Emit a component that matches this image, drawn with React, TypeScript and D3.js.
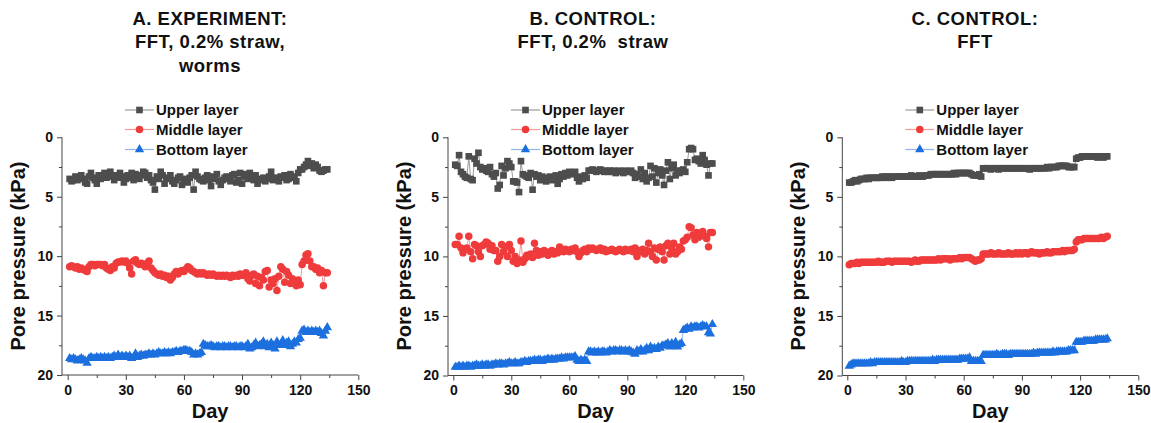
import React, { useEffect, useRef } from "react";
import * as d3 from "d3";

// ---------- DATA ----------
const DAYS = [
  1,2,3,4,5,6,7,8,9,10,11,12,13,14,15,16,17,18,19,20,
  21,22,23,24,25,26,27,28,29,30,31,32,33,34,35,36,37,38,39,40,
  41,42,43,44,45,46,47,48,49,50,51,52,53,54,55,56,57,58,59,60,
  61,62,63,64,65,66,67,68,69,70,71,72,73,74,75,76,77,78,79,80,
  81,82,83,84,85,86,87,88,89,90,91,92,93,94,95,96,97,98,99,100,
  101,102,103,104,105,106,107,108,109,110,111,112,113,114,115,116,117,118,119,120,
  121,122,123,124,125,126,127,128,129,130,131,132,133,134,
];

const SERIES_NAMES = ["Upper layer", "Middle layer", "Bottom layer"];
const X_TICKS = [0, 30, 60, 90, 120, 150];
const X_MINOR = [15, 45, 75, 105, 135];
const Y_TICKS = [0, 5, 10, 15, 20];
const Y_MINOR = [2.5, 7.5, 12.5, 17.5];

// Panel A: experiment
const A_UPPER = [
  3.5,3.7,3.6,3.3,3.6,3.4,3.2,3.5,3.8,3.9,
  3.3,3.0,3.4,3.6,3.9,3.2,3.5,3.3,3.0,3.4,
  3.1,2.9,3.3,3.6,3.2,3.4,3.0,3.3,3.8,3.5,
  3.2,3.4,3.0,3.6,3.1,3.3,3.5,3.2,2.9,3.0,
  3.4,3.2,3.6,3.8,4.4,3.3,3.5,2.9,3.2,3.9,
  3.4,3.5,3.2,3.7,3.9,3.6,3.4,3.3,4.0,3.7,
  3.5,3.8,3.4,3.2,4.4,2.9,3.3,3.5,3.6,3.7,
  3.4,3.2,3.6,4.1,3.3,3.5,3.1,3.7,4.0,3.6,
  3.4,3.3,3.5,3.7,3.2,3.1,3.8,3.6,3.0,3.9,
  3.3,3.1,3.5,3.0,3.4,3.6,3.2,3.9,3.5,3.6,
  3.4,3.7,3.5,3.3,2.9,3.6,3.4,3.5,3.7,3.3,
  3.4,3.2,3.6,3.5,3.1,3.4,3.3,3.7,3.0,2.7,
  2.7,2.5,2.3,2.0,2.4,2.2,2.6,2.3,2.5,2.8,
  2.9,2.8,2.7,2.7,
];
const A_MIDDLE = [
  10.9,10.8,10.9,11.0,10.9,11.1,11.0,11.1,11.2,11.3,
  10.9,10.7,10.7,10.8,10.7,10.7,10.7,10.8,10.7,11.0,
  11.1,11.2,10.9,11.0,10.6,10.5,10.5,10.4,10.5,10.4,
  10.6,11.0,11.5,10.4,10.3,10.6,10.7,10.6,10.7,10.9,
  10.6,10.4,11.0,11.2,11.4,11.5,11.6,11.5,11.7,11.6,
  11.8,11.7,12.0,11.8,11.5,11.3,11.5,11.3,11.2,11.3,
  11.1,10.9,11.0,11.2,11.3,11.4,11.5,11.4,11.5,11.4,
  11.5,11.6,11.5,11.6,11.5,11.6,11.7,11.6,11.7,11.6,
  11.7,11.6,11.7,11.8,11.6,11.7,11.6,11.7,11.5,11.6,
  11.6,11.4,11.9,12.1,11.6,11.5,12.3,11.7,12.5,11.8,
  12.0,11.3,11.2,12.6,12.0,12.3,11.9,12.9,11.7,10.9,
  11.1,12.2,11.3,11.6,12.3,11.9,12.2,12.5,12.0,12.4,
  10.7,10.4,9.9,9.8,10.4,10.9,10.9,11.1,11.0,11.4,
  11.2,12.5,11.4,11.4,
];
const A_BOTTOM = [
  18.6,18.7,18.6,18.7,18.8,18.7,18.6,18.7,18.8,19.0,
  18.6,18.5,18.6,18.6,18.5,18.6,18.5,18.6,18.5,18.6,
  18.5,18.6,18.5,18.4,18.5,18.3,18.5,18.4,18.5,18.4,
  18.5,18.4,18.6,18.5,18.2,18.5,18.4,18.3,18.4,18.3,
  18.3,18.2,18.3,18.2,18.3,18.2,18.1,18.2,18.2,18.1,
  18.2,18.1,18.2,18.1,18.1,18.0,18.1,18.0,18.0,17.9,
  17.9,18.0,18.0,18.1,18.3,18.2,18.3,18.2,18.1,17.4,
  17.5,17.6,17.6,17.5,17.6,17.7,17.6,17.6,17.7,17.6,
  17.6,17.7,17.6,17.6,17.7,17.6,17.6,17.7,17.6,17.6,
  17.7,17.6,17.4,17.8,17.7,17.5,17.3,17.6,17.5,17.4,
  17.2,17.6,17.4,17.7,17.3,17.5,17.8,17.2,17.5,17.4,
  17.1,17.5,17.3,17.2,17.6,17.4,17.2,17.3,17.0,16.9,
  16.3,16.2,16.4,16.3,16.4,16.3,16.4,16.3,16.4,16.3,
  16.5,16.7,16.3,16.0,
];

// Panel B: control, FFT + straw
const B_UPPER = [
  2.3,2.4,1.5,2.9,3.1,3.3,3.4,1.6,3.5,3.6,
  1.8,2.2,1.3,2.5,2.7,2.6,2.8,2.9,2.5,3.1,
  3.3,3.0,4.3,4.0,2.4,3.2,2.6,2.0,2.2,2.5,
  3.7,3.7,3.8,4.6,2.0,3.1,3.2,3.3,3.4,3.0,
  4.4,3.1,3.3,3.2,3.6,3.3,3.5,3.7,3.4,3.3,
  3.6,3.5,3.2,3.9,3.5,3.1,3.3,3.0,3.2,2.9,
  3.0,3.1,2.9,3.4,3.7,3.3,3.5,3.2,3.4,2.8,
  2.8,2.7,2.8,2.9,2.8,2.7,2.8,2.9,2.8,2.9,
  2.8,2.9,2.8,3.0,2.9,2.8,2.9,3.0,2.8,2.9,
  2.9,2.8,3.0,3.4,3.1,3.3,2.7,3.5,3.0,3.7,
  3.4,2.4,3.3,2.6,3.8,3.0,2.7,3.2,4.0,2.8,
  2.1,3.5,2.6,2.3,3.2,2.8,3.0,2.8,2.7,2.9,
  2.1,1.0,0.9,1.0,1.9,1.8,2.0,2.2,1.5,1.9,
  2.3,3.2,2.2,2.2,
];
const B_MIDDLE = [
  9.0,9.0,8.3,9.3,9.7,9.4,9.3,8.3,9.6,10.2,
  9.0,9.1,9.6,10.0,9.1,9.0,8.8,8.9,9.4,9.1,
  9.5,9.5,10.4,10.0,9.0,9.6,9.2,10.0,9.0,9.5,
  10.4,10.0,10.6,10.3,8.7,10.5,10.2,9.9,10.0,9.8,
  10.1,8.9,9.5,9.9,9.6,9.8,9.5,9.7,9.9,9.6,
  9.5,9.8,9.6,9.7,9.2,9.5,9.6,9.4,9.5,9.6,
  9.4,9.5,9.3,9.6,10.0,9.7,9.5,9.4,9.6,9.3,
  9.4,9.3,9.4,9.5,9.4,9.3,9.5,9.4,9.6,9.5,
  9.5,9.4,9.5,9.6,9.5,9.4,9.5,9.6,9.4,9.5,
  9.5,9.4,9.6,9.3,10.0,9.5,9.6,9.4,9.8,9.5,
  8.9,9.6,10.0,9.3,10.3,9.4,9.2,9.6,10.3,9.1,
  8.9,9.8,9.3,8.9,9.8,9.6,9.2,9.4,8.7,8.6,
  8.4,7.5,7.6,8.2,8.6,8.0,8.4,8.1,7.9,8.3,
  8.5,9.2,8.0,8.0,
];
const B_BOTTOM = [
  19.3,19.3,19.2,19.3,19.2,19.3,19.2,19.2,19.3,19.2,
  19.2,19.1,19.2,19.2,19.1,19.2,19.1,19.1,19.2,19.1,
  19.1,19.0,19.1,19.0,19.0,19.1,19.0,19.0,18.9,19.0,
  19.0,18.9,19.0,19.0,18.9,18.9,18.8,18.9,18.8,18.8,
  18.8,18.7,18.8,18.7,18.7,18.8,18.7,18.7,18.6,18.7,
  18.6,18.7,18.6,18.6,18.6,18.5,18.6,18.5,18.5,18.5,
  18.5,18.5,18.4,18.7,18.8,18.7,18.8,18.7,18.8,18.0,
  18.0,18.1,18.0,18.1,18.0,18.1,18.0,18.0,18.1,18.0,
  17.9,18.0,17.9,17.9,18.0,17.9,17.9,18.0,17.9,18.0,
  17.9,18.0,18.1,18.2,17.9,18.0,17.8,18.0,17.9,17.7,
  17.9,17.6,17.8,17.7,17.8,17.6,17.7,17.5,17.5,17.4,
  17.3,17.6,17.3,17.5,17.2,17.6,17.4,17.3,16.2,16.1,
  16.0,16.1,15.9,16.0,15.9,15.9,16.0,15.9,15.8,15.9,
  15.9,16.4,16.5,15.7,
];

// Panel C: control, FFT only
const C_UPPER = [
  3.8,3.8,3.7,3.6,3.7,3.6,3.5,3.5,3.5,3.4,
  3.5,3.4,3.4,3.4,3.4,3.4,3.4,3.3,3.3,3.4,
  3.3,3.3,3.4,3.3,3.3,3.3,3.3,3.3,3.3,3.3,
  3.3,3.3,3.2,3.3,3.3,3.3,3.2,3.3,3.3,3.2,
  3.2,3.2,3.1,3.1,3.1,3.1,3.1,3.1,3.1,3.1,
  3.1,3.1,3.1,3.1,3.0,3.1,3.0,3.0,3.0,3.0,
  3.0,3.0,3.0,3.1,3.2,3.2,3.2,3.1,3.3,2.6,
  2.6,2.6,2.6,2.7,2.6,2.6,2.6,2.7,2.6,2.6,
  2.6,2.6,2.6,2.6,2.6,2.6,2.6,2.6,2.6,2.6,
  2.6,2.6,2.6,2.7,2.6,2.6,2.6,2.6,2.6,2.6,
  2.6,2.6,2.5,2.6,2.5,2.5,2.5,2.5,2.4,2.4,
  2.4,2.4,2.4,2.5,2.5,2.5,2.5,1.8,1.7,1.7,
  1.6,1.6,1.6,1.6,1.6,1.6,1.6,1.6,1.7,1.6,
  1.6,1.7,1.6,1.6,
];
const C_MIDDLE = [
  10.7,10.6,10.6,10.6,10.5,10.6,10.5,10.5,10.5,10.5,
  10.5,10.5,10.5,10.5,10.5,10.4,10.5,10.5,10.5,10.4,
  10.4,10.4,10.5,10.4,10.4,10.4,10.4,10.4,10.4,10.4,
  10.4,10.4,10.5,10.4,10.3,10.4,10.4,10.3,10.3,10.3,
  10.3,10.3,10.3,10.3,10.3,10.3,10.2,10.3,10.2,10.2,
  10.2,10.2,10.3,10.2,10.2,10.2,10.2,10.1,10.2,10.1,
  10.1,10.1,10.1,10.2,10.3,10.4,10.3,10.3,10.2,9.8,
  9.8,9.8,9.8,9.7,9.8,9.8,9.8,9.7,9.8,9.8,
  9.8,9.8,9.7,9.8,9.8,9.8,9.7,9.8,9.7,9.8,
  9.7,9.7,9.8,9.7,9.6,9.7,9.7,9.7,9.8,9.7,
  9.7,9.7,9.6,9.7,9.7,9.6,9.6,9.6,9.6,9.6,
  9.5,9.6,9.5,9.5,9.5,9.5,9.4,8.8,8.6,8.6,
  8.6,8.5,8.5,8.5,8.5,8.5,8.5,8.5,8.5,8.5,
  8.4,8.5,8.4,8.3,
];
const C_BOTTOM = [
  19.2,19.1,19.0,19.0,19.0,19.0,19.0,19.0,19.0,19.0,
  19.0,18.9,19.0,18.9,18.9,18.9,18.9,18.9,18.9,18.9,
  18.9,18.9,18.9,18.9,18.9,18.9,18.9,18.8,18.9,18.9,
  18.8,18.8,18.8,18.8,18.8,18.8,18.8,18.8,18.8,18.8,
  18.8,18.8,18.8,18.7,18.8,18.7,18.7,18.7,18.7,18.7,
  18.7,18.7,18.7,18.7,18.7,18.7,18.7,18.6,18.6,18.6,
  18.6,18.6,18.5,18.8,18.8,18.8,18.8,18.8,18.8,18.3,
  18.3,18.3,18.3,18.3,18.3,18.3,18.2,18.3,18.3,18.2,
  18.2,18.2,18.3,18.2,18.2,18.2,18.2,18.2,18.2,18.2,
  18.2,18.2,18.2,18.2,18.2,18.1,18.2,18.1,18.1,18.1,
  18.1,18.1,18.1,18.1,18.1,18.0,18.1,18.0,18.0,18.0,
  18.0,18.0,18.0,17.9,17.9,17.9,17.9,17.2,17.2,17.2,
  17.2,17.1,17.1,17.1,17.1,17.1,17.1,17.0,17.0,17.0,
  17.0,17.0,17.0,16.9,
];

const TITLES = [
  ["A. EXPERIMENT:", "FFT, 0.2% straw,", "worms"],
  ["B. CONTROL:", "FFT, 0.2%  straw"],
  ["C. CONTROL:", "FFT"],
];

// ---------- LAYOUT / STYLE ----------
const W = 1151;
const H = 423;
const FONT = "'Liberation Sans', Arial, Helvetica, sans-serif";
const COLORS = ["#4d4d4d", "#ef3b3b", "#1c6fde"];
const LINE_COLORS = ["#9a9a9a", "#f59a9a", "#8fb6ee"];
const SYMBOLS = [d3.symbolSquare, d3.symbolCircle, d3.symbolTriangle];
const SYMBOL_SIZES = [44, 44, 38];

const LAYOUT = [
  { axisLeft: 62, x0: 67.7, x150: 358.3, yTop: 137.3, yBottom: 375, titleX: 210 },
  { axisLeft: 448, x0: 453.3, x150: 743.3, yTop: 137.3, yBottom: 375.5, titleX: 593 },
  { axisLeft: 842.3, x0: 847.3, x150: 1138.3, yTop: 137.3, yBottom: 375.5, titleX: 975 },
];

const PANEL_DATA = [
  [A_UPPER, A_MIDDLE, A_BOTTOM],
  [B_UPPER, B_MIDDLE, B_BOTTOM],
  [C_UPPER, C_MIDDLE, C_BOTTOM],
];

function Panel({ idx }: { idx: number }) {
  const L = LAYOUT[idx];
  const series = PANEL_DATA[idx];
  const xAxisRef = useRef<SVGGElement>(null);
  const yAxisRef = useRef<SVGGElement>(null);

  const x = d3.scaleLinear().domain([0, 150]).range([L.x0, L.x150]);
  const y = d3.scaleLinear().domain([0, 20]).range([L.yTop, L.yBottom]);

  useEffect(() => {
    const gx = d3.select(xAxisRef.current!);
    gx.selectAll("*").remove();
    const major = gx.append("g");
    major.call(
      d3.axisBottom(x).tickValues(X_TICKS).tickSize(5).tickPadding(5).tickSizeOuter(0) as any
    );
    const minor = gx.append("g");
    minor.call(
      d3.axisBottom(x).tickValues(X_MINOR).tickSize(3).tickFormat(() => "").tickSizeOuter(0) as any
    );
    gx.selectAll(".domain").remove();
    gx.append("line")
      .attr("x1", L.axisLeft)
      .attr("x2", L.x150)
      .attr("y1", 0)
      .attr("y2", 0)
      .attr("stroke", "#444")
      .attr("stroke-width", 1);
    gx.selectAll(".tick line").attr("stroke", "#444");
    gx.selectAll("text")
      .attr("font-family", FONT)
      .attr("font-weight", "bold")
      .attr("font-size", 14)
      .attr("fill", "#111");

    const gy = d3.select(yAxisRef.current!);
    gy.selectAll("*").remove();
    const ymaj = gy.append("g");
    ymaj.call(
      d3.axisLeft(y).tickValues(Y_TICKS).tickSize(5).tickPadding(4).tickSizeOuter(0) as any
    );
    const ymin = gy.append("g");
    ymin.call(
      d3.axisLeft(y).tickValues(Y_MINOR).tickSize(3).tickFormat(() => "").tickSizeOuter(0) as any
    );
    gy.selectAll(".domain").remove();
    gy.append("line")
      .attr("x1", 0)
      .attr("x2", 0)
      .attr("y1", y(0))
      .attr("y2", y(20))
      .attr("stroke", "#444")
      .attr("stroke-width", 1);
    gy.selectAll(".tick line").attr("stroke", "#444");
    gy.selectAll("text")
      .attr("font-family", FONT)
      .attr("font-weight", "bold")
      .attr("font-size", 14)
      .attr("fill", "#111");
  }, [idx]);

  const line = d3
    .line<number>()
    .x((_, i) => x(DAYS[i]))
    .y((v) => y(v));

  const legendY = [110, 129.5, 149.5];
  const legX1 = L.axisLeft + 63;
  const legX2 = L.axisLeft + 92;
  const axisCenter = (L.axisLeft + L.x150) / 2;

  return (
    <g>
      {/* Title */}
      <text
        x={L.titleX}
        y={25}
        textAnchor="middle"
        fontFamily={FONT}
        fontWeight="bold"
        fontSize={18.5}
        letterSpacing={0.5}
        fill="#111"
        style={{ whiteSpace: "pre" }}
      >
        {TITLES[idx].map((t, i) => (
          <tspan key={i} x={L.titleX} y={25 + i * 23.4} style={{ whiteSpace: "pre" }}>
            {t}
          </tspan>
        ))}
      </text>

      {/* Legend */}
      {SERIES_NAMES.map((name, i) => (
        <g key={name}>
          <line
            x1={legX1}
            x2={legX2}
            y1={legendY[i]}
            y2={legendY[i]}
            stroke={LINE_COLORS[i]}
            strokeWidth={1.2}
          />
          <path
            d={d3.symbol().type(SYMBOLS[i]).size(SYMBOL_SIZES[i])()!}
            transform={`translate(${(legX1 + legX2) / 2},${legendY[i]})`}
            fill={COLORS[i]}
          />
          <text
            x={L.axisLeft + 94}
            y={legendY[i] + 5}
            fontFamily={FONT}
            fontWeight="bold"
            fontSize={15}
            fill="#111"
          >
            {name}
          </text>
        </g>
      ))}

      {/* Data */}
      {series.map((vals, si) => (
        <g key={si}>
          <path d={line(vals)!} fill="none" stroke={LINE_COLORS[si]} strokeWidth={1} />
          {vals.map((v, i) => (
            <path
              key={i}
              d={d3.symbol().type(SYMBOLS[si]).size(SYMBOL_SIZES[si])()!}
              transform={`translate(${x(DAYS[i])},${y(v)})`}
              fill={COLORS[si]}
            />
          ))}
        </g>
      ))}

      {/* Axes */}
      <g ref={xAxisRef} transform={`translate(0,${L.yBottom})`} />
      <g ref={yAxisRef} transform={`translate(${L.axisLeft},0)`} />

      {/* Axis titles */}
      <text
        x={axisCenter}
        y={418}
        textAnchor="middle"
        fontFamily={FONT}
        fontWeight="bold"
        fontSize={20}
        fill="#111"
      >
        Day
      </text>
      <text
        transform={`translate(${L.axisLeft - 37},256) rotate(-90)`}
        textAnchor="middle"
        fontFamily={FONT}
        fontWeight="bold"
        fontSize={20}
        fill="#111"
      >
        Pore pressure (kPa)
      </text>
    </g>
  );
}

export default function App() {
  return (
    <svg
      width={W}
      height={H}
      viewBox={`0 0 ${W} ${H}`}
      style={{ position: "absolute", left: 0, top: 0, background: "#fff" }}
    >
      <rect width={W} height={H} fill="#fff" />
      {[0, 1, 2].map((i) => (
        <Panel key={i} idx={i} />
      ))}
    </svg>
  );
}
